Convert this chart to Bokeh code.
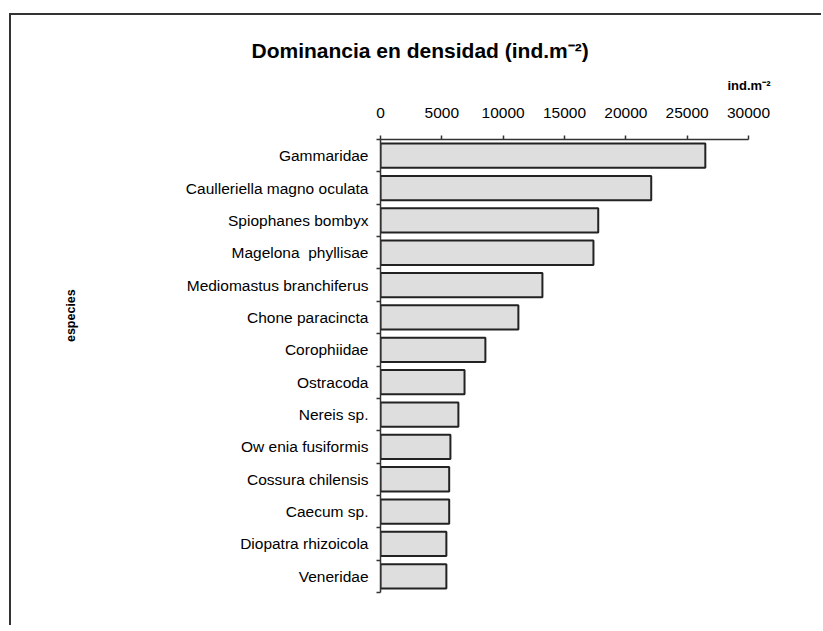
from bokeh.plotting import figure
from bokeh.models import Range1d, FixedTicker, ColumnDataSource, Title, LinearAxis
from bokeh.embed import file_html
from bokeh.resources import INLINE

# ---- data ----
species = [
    "Gammaridae",
    "Caulleriella magno oculata",
    "Spiophanes bombyx",
    "Magelona\u00a0 phyllisae",
    "Mediomastus branchiferus",
    "Chone paracincta",
    "Corophiidae",
    "Ostracoda",
    "Nereis sp.",
    "Ow enia fusiformis",
    "Cossura chilensis",
    "Caecum sp.",
    "Diopatra rhizoicola",
    "Veneridae",
]
density = [26480, 22070, 17750, 17360, 13200, 11240, 8550, 6850, 6350, 5700, 5600, 5600, 5370, 5370]
x_ticks = [0, 5000, 10000, 15000, 20000, 25000, 30000]

title_text = "Dominancia en densidad (ind.m\u207b\u00b2)"
unit_text = "ind.m\u207b\u00b2"
y_label = "especies"

n = len(species)
ypos = [i + 0.5 for i in range(n)]
src = ColumnDataSource(dict(y=ypos, v=density, name=species))

FONT = "Liberation Sans"

W, H = 812, 612
FL, FR, FT, FB = 369, 737, 124, 577   # frame edges in canvas pixels

p = figure(
    width=W, height=H,
    x_range=Range1d(0, 30000), y_range=Range1d(n, 0),
    x_axis_location="above",
    output_backend="svg", toolbar_location=None,
    min_border_left=FL, min_border_right=W - FR, min_border_top=FT, min_border_bottom=H - FB,
)
p.styles = {"border-left": "2px solid #333333", "border-top": "2px solid #333333",
            "margin-left": "9px", "margin-top": "13px"}
p.outline_line_color = None
p.xgrid.grid_line_color = None
p.ygrid.grid_line_color = None
p.background_fill_color = "white"
p.border_fill_color = "white"

p.hbar(y="y", right="v", left=0, height=0.75, source=src,
       fill_color="#dedede", line_color="#222222", line_width=2)

# top x axis
xa = p.xaxis[0]
xa.ticker = FixedTicker(ticks=x_ticks, minor_ticks=[])
xa.major_label_text_font = FONT
xa.major_label_text_font_size = "15.5px"
xa.major_label_text_color = "black"
xa.major_tick_out = 4
xa.major_tick_in = 0
xa.major_label_standoff = 18
xa.axis_line_color = "#333333"
xa.axis_line_width = 1.5
xa.major_tick_line_color = "#333333"
xa.major_tick_line_width = 1.5
xa.minor_tick_line_color = None

# left y axis: labels at centers, ticks at boundaries
ya = p.yaxis[0]
ya.ticker = FixedTicker(ticks=ypos, minor_ticks=list(range(n + 1)))
ya.major_label_overrides = {y: s for y, s in zip(ypos, species)}
ya.major_label_text_font = FONT
ya.major_label_text_font_size = "15.5px"
ya.major_label_text_color = "black"
ya.major_tick_line_color = None
ya.major_tick_out = 0
ya.major_tick_in = 0
ya.major_label_standoff = 8
ya.minor_tick_out = 4
ya.minor_tick_in = 0
ya.minor_tick_line_color = "#333333"
ya.minor_tick_line_width = 1.5
ya.axis_line_color = "#333333"
ya.axis_line_width = 1.5

# y label on a bare outer axis; leading no-break spaces lift it to the original's height
ylab_axis = LinearAxis(ticker=FixedTicker(ticks=[], minor_ticks=[]),
                       axis_line_color=None, major_tick_line_color=None,
                       minor_tick_line_color=None, major_tick_out=0, minor_tick_out=0,
                       major_label_standoff=0, major_label_text_font_size="0px",
                       axis_label="\u00a0" * 29 + y_label, axis_label_standoff=105,
                       axis_label_text_font=FONT, axis_label_text_font_size="12.5px",
                       axis_label_text_font_style="bold", axis_label_text_color="black")
p.add_layout(ylab_axis, "left")

# unit title (right, just above the tick labels)
unit = Title(text=unit_text, align="right", offset=-22, standoff=24,
             text_font=FONT, text_font_size="13px", text_font_style="bold",
             text_color="black")
p.add_layout(unit, "above")

# main title (outermost)
p.title.text = title_text
p.title.align = "left"
p.title.offset = -129
p.title.standoff = 4
p.title.text_font = FONT
p.title.text_font_size = "21px"
p.title.text_font_style = "bold"
p.title.text_color = "black"

open("out.html", "w").write(file_html(p, INLINE))
